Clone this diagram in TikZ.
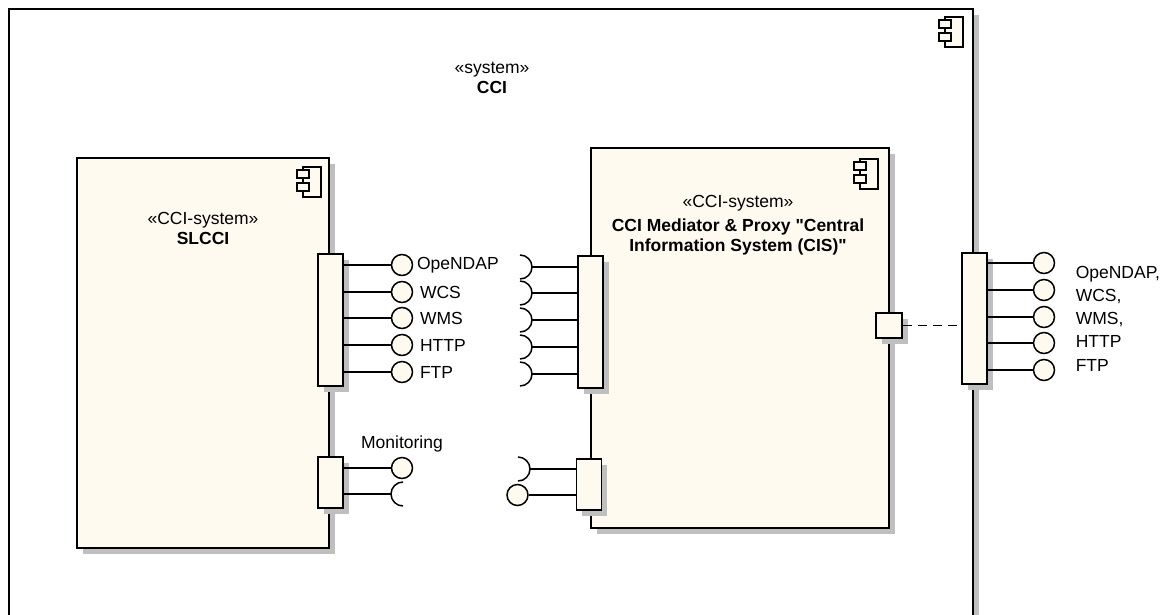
\documentclass[tikz,border=0pt]{standalone}
\usepackage{fontspec}
\setmainfont{Liberation Sans}[Ligatures=TeXOff]
\usepackage{tikz}
\usetikzlibrary{positioning, shadows}

\definecolor{compfill}{RGB}{255,250,240}

\begin{document}
\begin{tikzpicture}[
    x=1pt, y=-1pt,
    line width=1.5pt,
    every node/.style={font=\fontsize{17.5}{20}\selectfont},
    comp/.style={
        draw=black,
        fill=compfill,
        line width=1.8pt,
        inner sep=0pt,
        drop shadow={shadow xshift=5.5pt, shadow yshift=-5.5pt, fill=black!25, opacity=1}
    },
    port/.style={comp, minimum width=25pt},
    ball/.style={circle, draw=black, fill=compfill, minimum size=21pt, inner sep=0pt},
    lbl/.style={inner sep=2pt},
    compicon/.pic={
        \draw[line width=1.2pt, fill=compfill] (-18,0) rectangle (0,30);
        \draw[line width=1.2pt, fill=compfill] (-24,3) rectangle (-12,11);
        \draw[line width=1.2pt, fill=compfill] (-24,16) rectangle (-12,24);
    }
]
    \useasboundingbox (0,0) rectangle (1169,614);

    \node[comp, fill=white, line width=1.5pt, minimum width=964pt, minimum height=632pt] (cci) at (491,325) {};
    \pic at (963,17) {compicon};
    \node[align=center] (ccititle) at (492,78) {«system»\\\textbf{CCI}};

    \node[comp, minimum width=252pt, minimum height=390pt] (slcci) at (203,353) {};
    \pic at (321,167) {compicon};
    \node[align=center] (slccititle) at (203,228) {«CCI-system»\\\textbf{SLCCI}};

    \node[comp, minimum width=298pt, minimum height=380pt] (mediator) at (740,338) {};
    \pic at (878,159) {compicon};
    \node[align=center] (medtitle) at (738,225) {
        «CCI-system»\\[4pt]
        \textbf{CCI Mediator \& Proxy "Central}\\
        \textbf{Information System (CIS)"}
    };

    \node[port, minimum height=132pt] (slport) at (330.5,320) {};
    \node[port, minimum height=51pt] (slmonport) at (330.5,482.5) {};
    \node[port, minimum height=132pt] (medport) at (590.5,322) {};
    \node[port, minimum height=51pt] (medmonport) at (589,484.5) {};
    \node[port, minimum width=26pt, minimum height=25pt] (medextport) at (889,325.5) {};
    \node[port, minimum height=131pt] (cciport) at (974.5,318.5) {};

    \node[ball] (slopendap) at (402,265) {};
    \node[ball] (slwcs) at (402,292) {};
    \node[ball] (slwms) at (402,318) {};
    \node[ball] (slhttp) at (402,345) {};
    \node[ball] (slftp) at (402,372) {};
    \draw (slport.east |- slopendap) -- (slopendap);
    \draw (slport.east |- slwcs) -- (slwcs);
    \draw (slport.east |- slwms) -- (slwms);
    \draw (slport.east |- slhttp) -- (slhttp);
    \draw (slport.east |- slftp) -- (slftp);
    \node[lbl, right=1pt of slopendap] (slopendaplbl) {OpeNDAP};
    \node[lbl, right=4pt of slwcs] (slwcslbl) {WCS};
    \node[lbl, right=4pt of slwms] (slwmslbl) {WMS};
    \node[lbl, right=4pt of slhttp] (slhttplbl) {HTTP};
    \node[lbl, right=4pt of slftp] (slftplbl) {FTP};

    \coordinate (medopendap) at (532,267);
    \coordinate (medwcs) at (532,293);
    \coordinate (medwms) at (532,320);
    \coordinate (medhttp) at (532,347);
    \coordinate (medftp) at (532,374);
    \draw (medopendap) ++(-12,-12) arc[start angle=90, end angle=-90, radius=12pt];
    \draw (medwcs) ++(-12,-12) arc[start angle=90, end angle=-90, radius=12pt];
    \draw (medwms) ++(-12,-12) arc[start angle=90, end angle=-90, radius=12pt];
    \draw (medhttp) ++(-12,-12) arc[start angle=90, end angle=-90, radius=12pt];
    \draw (medftp) ++(-12,-12) arc[start angle=90, end angle=-90, radius=12pt];
    \draw (medopendap) -- (medopendap -| medport.west);
    \draw (medwcs) -- (medwcs -| medport.west);
    \draw (medwms) -- (medwms -| medport.west);
    \draw (medhttp) -- (medhttp -| medport.west);
    \draw (medftp) -- (medftp -| medport.west);

    \node[ball] (slmonball) at (402,468) {};
    \coordinate (slmonsocket) at (391,494);
    \draw (slmonport.east |- slmonball) -- (slmonball);
    \draw (slmonsocket) ++(12,-12) arc[start angle=90, end angle=270, radius=12pt];
    \draw (slmonport.east |- slmonsocket) -- (slmonsocket);
    \node[lbl, above=2pt of slmonball] (monlbl) {Monitoring};

    \coordinate (medmonsocket) at (530,469);
    \node[ball] (medmonball) at (517.5,495) {};
    \draw (medmonsocket) ++(-12,-12) arc[start angle=90, end angle=-90, radius=12pt];
    \draw (medmonsocket) -- (medmonsocket -| medmonport.west);
    \draw (medmonball) -- (medmonball -| medmonport.west);

    \draw[line width=1.6pt, dash pattern=on 9pt off 6pt] (medextport.east) -- (medextport.east -| cciport.west);

    \node[ball] (cciopendap) at (1044,263) {};
    \node[ball] (cciwcs) at (1044,290) {};
    \node[ball] (cciwms) at (1044,317) {};
    \node[ball] (ccihttp) at (1044,343) {};
    \node[ball] (cciftp) at (1044,370) {};
    \draw (cciport.east |- cciopendap) -- (cciopendap);
    \draw (cciport.east |- cciwcs) -- (cciwcs);
    \draw (cciport.east |- cciwms) -- (cciwms);
    \draw (cciport.east |- ccihttp) -- (ccihttp);
    \draw (cciport.east |- cciftp) -- (cciftp);
    \node[anchor=west, align=left, inner sep=3pt, font=\fontsize{17.5}{23.25}\selectfont] (ccilbl) at (1072,318.5) {
        OpeNDAP,\\WCS,\\WMS,\\HTTP\\FTP
    };
\end{tikzpicture}
\end{document}
